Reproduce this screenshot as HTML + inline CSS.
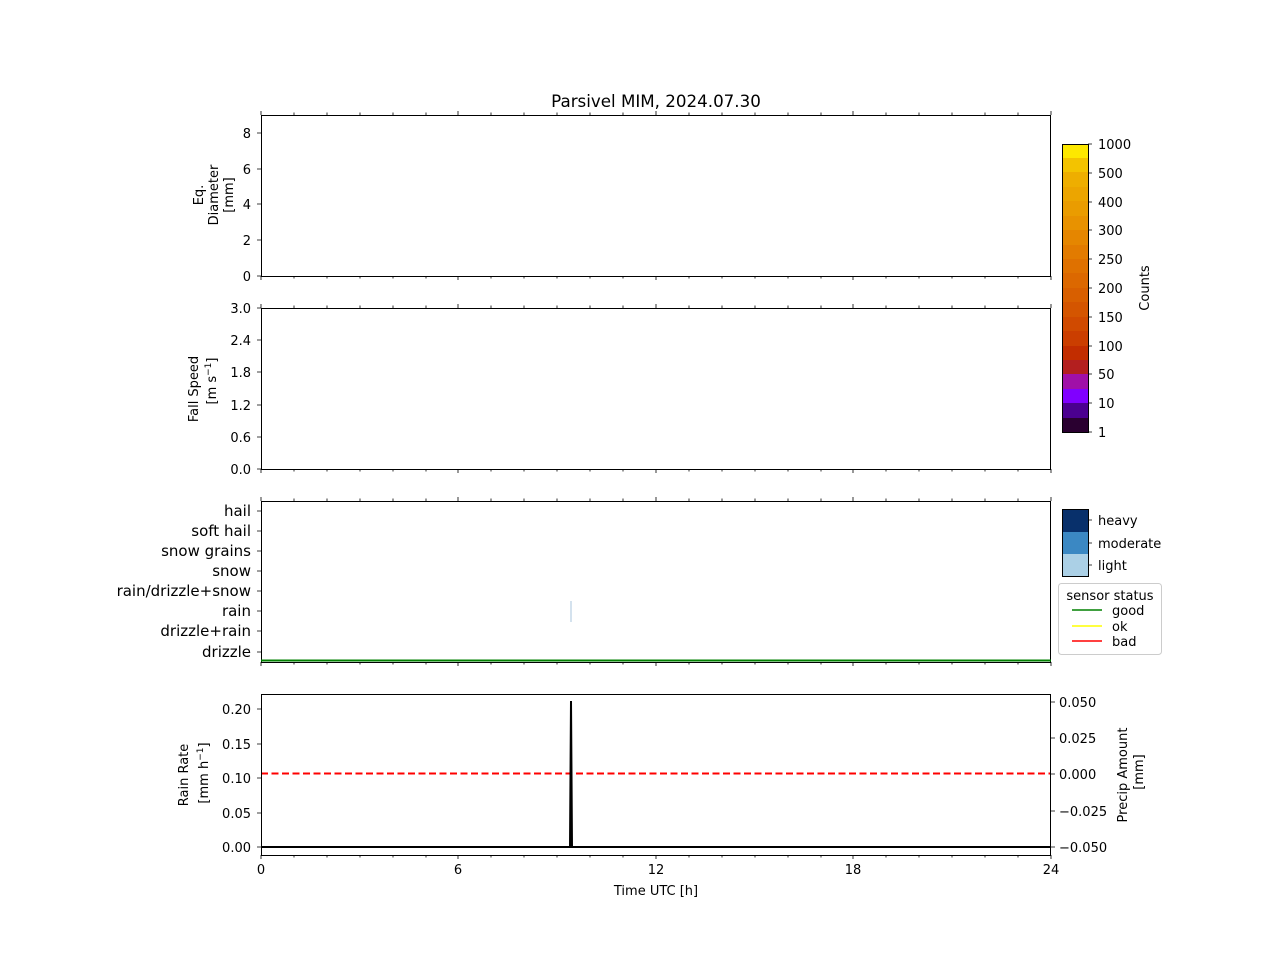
<!DOCTYPE html>
<html><head><meta charset="utf-8"><style>
body{margin:0;background:#fff}
svg{display:block;font-family:"DejaVu Sans","Liberation Sans",sans-serif}
</style></head><body>
<svg width="1280" height="960" xmlns="http://www.w3.org/2000/svg">
<rect width="1280" height="960" fill="#fff"/>
<text x="656" y="107" font-size="16.7" text-anchor="middle">Parsivel MIM, 2024.07.30</text>
<path stroke="#000" stroke-width="0.8" fill="none" d="
M261,115v-4M294,115v-2.5M327,115v-2.5M360,115v-2.5M393,115v-2.5M426,115v-2.5M458,115v-4M491,115v-2.5M524,115v-2.5M557,115v-2.5M590,115v-2.5M623,115v-2.5M656,115v-4M689,115v-2.5M722,115v-2.5M755,115v-2.5M788,115v-2.5M821,115v-2.5M853,115v-4M886,115v-2.5M919,115v-2.5M952,115v-2.5M985,115v-2.5M1018,115v-2.5M1051,115v-4
M261,276v4M294,276v2.5M327,276v2.5M360,276v2.5M393,276v2.5M426,276v2.5M458,276v4M491,276v2.5M524,276v2.5M557,276v2.5M590,276v2.5M623,276v2.5M656,276v4M689,276v2.5M722,276v2.5M755,276v2.5M788,276v2.5M821,276v2.5M853,276v4M886,276v2.5M919,276v2.5M952,276v2.5M985,276v2.5M1018,276v2.5M1051,276v4
M261,308v-4M294,308v-2.5M327,308v-2.5M360,308v-2.5M393,308v-2.5M426,308v-2.5M458,308v-4M491,308v-2.5M524,308v-2.5M557,308v-2.5M590,308v-2.5M623,308v-2.5M656,308v-4M689,308v-2.5M722,308v-2.5M755,308v-2.5M788,308v-2.5M821,308v-2.5M853,308v-4M886,308v-2.5M919,308v-2.5M952,308v-2.5M985,308v-2.5M1018,308v-2.5M1051,308v-4
M261,469v4M294,469v2.5M327,469v2.5M360,469v2.5M393,469v2.5M426,469v2.5M458,469v4M491,469v2.5M524,469v2.5M557,469v2.5M590,469v2.5M623,469v2.5M656,469v4M689,469v2.5M722,469v2.5M755,469v2.5M788,469v2.5M821,469v2.5M853,469v4M886,469v2.5M919,469v2.5M952,469v2.5M985,469v2.5M1018,469v2.5M1051,469v4
M261,501v-4M294,501v-2.5M327,501v-2.5M360,501v-2.5M393,501v-2.5M426,501v-2.5M458,501v-4M491,501v-2.5M524,501v-2.5M557,501v-2.5M590,501v-2.5M623,501v-2.5M656,501v-4M689,501v-2.5M722,501v-2.5M755,501v-2.5M788,501v-2.5M821,501v-2.5M853,501v-4M886,501v-2.5M919,501v-2.5M952,501v-2.5M985,501v-2.5M1018,501v-2.5M1051,501v-4
M261,662v4M294,662v2.5M327,662v2.5M360,662v2.5M393,662v2.5M426,662v2.5M458,662v4M491,662v2.5M524,662v2.5M557,662v2.5M590,662v2.5M623,662v2.5M656,662v4M689,662v2.5M722,662v2.5M755,662v2.5M788,662v2.5M821,662v2.5M853,662v4M886,662v2.5M919,662v2.5M952,662v2.5M985,662v2.5M1018,662v2.5M1051,662v4
M261,855v4M294,855v2.5M327,855v2.5M360,855v2.5M393,855v2.5M426,855v2.5M458,855v4M491,855v2.5M524,855v2.5M557,855v2.5M590,855v2.5M623,855v2.5M656,855v4M689,855v2.5M722,855v2.5M755,855v2.5M788,855v2.5M821,855v2.5M853,855v4M886,855v2.5M919,855v2.5M952,855v2.5M985,855v2.5M1018,855v2.5M1051,855v4
M261,276h-4M261,240h-4M261,204h-4M261,169h-4M261,133h-4
M261,469h-4M261,437h-4M261,405h-4M261,372h-4M261,340h-4M261,308h-4
M261,511h-4M261,531h-4M261,551h-4M261,571h-4M261,591h-4M261,611h-4M261,631h-4M261,652h-4
M261,847h-4M261,813h-4M261,778h-4M261,744h-4M261,709h-4
M1051,847h4M1051,811h4M1051,774h4M1051,738h4M1051,702h4
M1088,144h4M1088,173h4M1088,202h4M1088,230h4M1088,259h4M1088,288h4M1088,317h4M1088,346h4M1088,374h4M1088,403h4M1088,432h4
M1088,520h4M1088,543h4M1088,565h4"/>
<g fill="none" stroke="#000" stroke-width="1">
<rect x="261.5" y="115.5" width="789" height="161"/>
<rect x="261.5" y="308.5" width="789" height="161"/>
<rect x="261.5" y="501.5" width="789" height="161"/>
</g>
<line x1="571" y1="601" x2="571" y2="622" stroke="#aac4dc" stroke-width="1"/>
<line x1="261" y1="660.5" x2="1051" y2="660.5" stroke="#008000" stroke-width="2"/>
<line x1="261" y1="773.5" x2="1051" y2="773.5" stroke="#f00" stroke-width="2" stroke-dasharray="7,3.5"/>
<polyline points="261,847 570,847 571,701 572,847 1051,847" fill="none" stroke="#000" stroke-width="2"/>
<rect x="261.5" y="694.5" width="789" height="161" fill="none" stroke="#000"/>
<g font-size="13" text-anchor="end">
<text x="251" y="281">0</text><text x="251" y="245">2</text><text x="251" y="209">4</text><text x="251" y="174">6</text><text x="251" y="138">8</text>
<text x="251" y="474">0.0</text><text x="251" y="442">0.6</text><text x="251" y="410">1.2</text><text x="251" y="377">1.8</text><text x="251" y="345">2.4</text><text x="251" y="313">3.0</text>
<text x="251" y="852">0.00</text><text x="251" y="818">0.05</text><text x="251" y="783">0.10</text><text x="251" y="749">0.15</text><text x="251" y="714">0.20</text>
</g>
<g font-size="15" text-anchor="end">
<text x="251" y="516">hail</text><text x="251" y="536">soft hail</text><text x="251" y="556">snow grains</text><text x="251" y="576">snow</text><text x="251" y="596">rain/drizzle+snow</text><text x="251" y="616">rain</text><text x="251" y="636">drizzle+rain</text><text x="251" y="657">drizzle</text>
</g>
<g font-size="13">
<text x="1059" y="852">−0.050</text><text x="1059" y="816">−0.025</text><text x="1059" y="779">0.000</text><text x="1059" y="743">0.025</text><text x="1059" y="707">0.050</text>
<text x="1098" y="149">1000</text><text x="1098" y="178">500</text><text x="1098" y="207">400</text><text x="1098" y="235">300</text><text x="1098" y="264">250</text><text x="1098" y="293">200</text><text x="1098" y="322">150</text><text x="1098" y="351">100</text><text x="1098" y="379">50</text><text x="1098" y="408">10</text><text x="1098" y="437">1</text>
<text x="1098" y="525">heavy</text><text x="1098" y="548">moderate</text><text x="1098" y="570">light</text>
</g>
<g font-size="13" text-anchor="middle">
<text x="261" y="874">0</text><text x="458" y="874">6</text><text x="656" y="874">12</text><text x="853" y="874">18</text><text x="1051" y="874">24</text>
<text x="656" y="895">Time UTC [h]</text>
</g>
<g font-size="13" text-anchor="middle">
<text transform="translate(203,195) rotate(-90)">Eq.</text>
<text transform="translate(218,195) rotate(-90)">Diameter</text>
<text transform="translate(233,195) rotate(-90)">[mm]</text>
<text transform="translate(198,389) rotate(-90)">Fall Speed</text>
<text transform="translate(216,381) rotate(-90)">[m s<tspan dy="-5" font-size="9">−1</tspan><tspan dy="5">]</tspan></text>
<text transform="translate(188,775) rotate(-90)">Rain Rate</text>
<text transform="translate(208,773) rotate(-90)">[mm h<tspan dy="-5" font-size="9">−1</tspan><tspan dy="5">]</tspan></text>
<text transform="translate(1127,775) rotate(-90)">Precip Amount</text>
<text transform="translate(1143,772) rotate(-90)">[mm]</text>
<text transform="translate(1149,288) rotate(-90)">Counts</text>
</g>
<g>
<rect x="1062" y="144" width="26" height="15" fill="#fde800"/>
<rect x="1062" y="158" width="26" height="15" fill="#f3c300"/>
<rect x="1062" y="172" width="26" height="15" fill="#eeae00"/>
<rect x="1062" y="187" width="26" height="15" fill="#eca500"/>
<rect x="1062" y="201" width="26" height="15" fill="#ea9c00"/>
<rect x="1062" y="216" width="26" height="15" fill="#e89200"/>
<rect x="1062" y="230" width="26" height="15" fill="#e58600"/>
<rect x="1062" y="245" width="26" height="15" fill="#e27b00"/>
<rect x="1062" y="259" width="26" height="15" fill="#df7100"/>
<rect x="1062" y="273" width="26" height="15" fill="#dc6800"/>
<rect x="1062" y="288" width="26" height="15" fill="#d85f00"/>
<rect x="1062" y="302" width="26" height="15" fill="#d45500"/>
<rect x="1062" y="317" width="26" height="15" fill="#d04a00"/>
<rect x="1062" y="331" width="26" height="15" fill="#cb3e00"/>
<rect x="1062" y="346" width="26" height="15" fill="#c22d00"/>
<rect x="1062" y="360" width="26" height="15" fill="#b31f1f"/>
<rect x="1062" y="374" width="26" height="15" fill="#a010a8"/>
<rect x="1062" y="389" width="26" height="15" fill="#8000ff"/>
<rect x="1062" y="403" width="26" height="15" fill="#4b0090"/>
<rect x="1062" y="418" width="26" height="14" fill="#2a0030"/>
<rect x="1062.5" y="144.5" width="26" height="288" fill="none" stroke="#000"/>
<rect x="1062" y="509" width="26" height="23" fill="#08306b"/>
<rect x="1062" y="532" width="26" height="22" fill="#3b88c3"/>
<rect x="1062" y="554" width="26" height="22" fill="#abd0e6"/>
<rect x="1062.5" y="509.5" width="26" height="67" fill="none" stroke="#000"/>
</g>
<rect x="1058.5" y="583.5" width="103" height="71" rx="3" fill="#fff" stroke="#ccc"/>
<text x="1110" y="600" font-size="13" text-anchor="middle">sensor status</text>
<line x1="1072" y1="610" x2="1102" y2="610" stroke="#008000" stroke-width="1.6"/>
<line x1="1072" y1="626" x2="1102" y2="626" stroke="#ff0" stroke-width="1.6"/>
<line x1="1072" y1="641" x2="1102" y2="641" stroke="#f00" stroke-width="1.6"/>
<g font-size="13"><text x="1112" y="615">good</text><text x="1112" y="631">ok</text><text x="1112" y="646">bad</text></g>
</svg>
</body></html>
